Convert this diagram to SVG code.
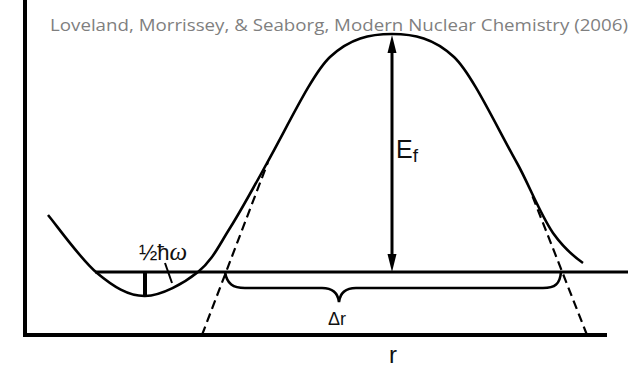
<svg xmlns="http://www.w3.org/2000/svg" width="634" height="368" viewBox="0 0 634 368">
<style>
.ln{stroke:#000;fill:none;stroke-linecap:butt}
.lbl{font-family:"Liberation Sans",Arial,sans-serif;fill:#111}
.dash{stroke:#000;stroke-width:2.2;stroke-dasharray:9,5;fill:none}
.head{fill:#000}
</style>
<rect width="634" height="368" fill="#fff"/>
<text x="50" y="31" font-family="'Open Sans',sans-serif" font-size="17" fill="#7f7f7f" textLength="578" lengthAdjust="spacingAndGlyphs">Loveland, Morrissey, &amp; Seaborg, Modern Nuclear Chemistry (2006)</text>
<g id="axes">
<line class="ln" x1="25" y1="0" x2="25" y2="337" stroke-width="4"/>
<line class="ln" x1="23" y1="335" x2="607" y2="335" stroke-width="4"/>
</g>
<g id="level">
<line class="ln" x1="95" y1="272" x2="628" y2="272" stroke-width="3"/>
</g>
<g id="potential">
<path class="ln" stroke-width="2.6" d="M48,215 C56.2,224.7 80.8,259.5 97,273 C113.2,286.5 128.2,296.2 145,296 C161.8,295.8 183.8,283.3 198,272 C212.2,260.7 218.5,246.2 230,228 C241.5,209.8 255.8,183.5 267,163 C287,127.6 312,74 330,57 C350,38.2 370,34 392,34 C414,34 434,38.2 454,57 C472,74 497,127.6 517,163 C528,182.5 540,214 553,233 C563,247 573,256 583,263"/>
</g>
<g id="tangents">
<line class="dash" x1="202" y1="335" x2="268" y2="162"/>
<line class="dash" x1="587" y1="335" x2="532" y2="195"/>
</g>
<g id="zeropoint">
<rect x="143" y="272" width="4" height="24" fill="#000"/>
<line class="ln" x1="165" y1="263" x2="172" y2="283" stroke-width="2"/>
<text class="lbl" x="139" y="260" font-size="22">½ħ<tspan font-family="'Liberation Serif',serif" font-style="italic" font-size="25">ω</tspan></text>
</g>
<g id="barrier-height">
<line class="ln" x1="392" y1="48" x2="392" y2="258" stroke-width="3"/>
<polygon class="head" points="392,35 387.5,53 396.5,53"/>
<polygon class="head" points="392,272 387.5,254 396.5,254"/>
<text class="lbl" x="396" y="158" font-size="25">E<tspan font-size="19" dy="4">f</tspan></text>
</g>
<g id="brace">
<path class="ln" stroke-width="2.6" d="M225,272 C227,284 233,288 245,288 L322,288 C333,288 338,294 339,302 C340,294 345,288 356,288 L543,288 C555,288 560,284 561,272"/>
<text class="lbl" x="328" y="325" font-size="18">Δr</text>
</g>
<text class="lbl" x="389" y="363" font-size="24">r</text>
</svg>
